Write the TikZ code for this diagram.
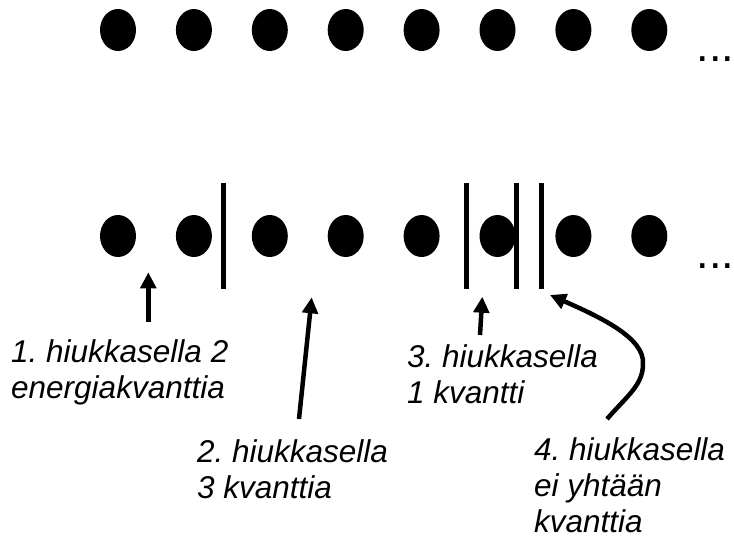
\documentclass[tikz,border=0pt]{standalone}
\usepackage{fontspec}
\setmainfont{Liberation Sans}
\usetikzlibrary{arrows.meta,shapes.geometric}
\frenchspacing
\begin{document}
\begin{tikzpicture}[x=1pt,y=-1pt,
  particle/.style={ellipse,fill=black,draw=none,minimum width=36pt,minimum height=42pt,inner sep=0pt},
  wall/.style={line width=5pt},
  arr/.style={line width=4.5pt,-{Triangle[width=15.5pt,length=16pt]}},
  lbl/.style={font=\fontsize{31.5}{36}\selectfont\itshape\frenchspacing,align=left,inner sep=0pt,anchor=north west},
  more/.style={font=\fontsize{45}{50}\selectfont,inner sep=0pt,anchor=base west}]
\useasboundingbox (0,0) rectangle (734,539);
% top row
\foreach \i in {1,...,8}{
  \node[particle] (t\i) at ({118+75.9*(\i-1)},30) {};
}
\node[more] (tdots) at (696.6,61.7) {...};
% bottom row
\foreach \i in {1,...,8}{
  \node[particle] (b\i) at ({118+75.9*(\i-1)},236) {};
}
\node[more] (bdots) at (696.6,268.3) {...};
% walls
\draw[wall] (223.3,183.3) -- (223.3,289);
\draw[wall] (466,183.3) -- (466,289);
\draw[wall] (516,183.3) -- (516,289);
\draw[wall] (541,183.3) -- (541,289);
% labels
\node[lbl] (l1) at (11,339.3) {1. hiukkasella 2\\energiakvanttia};
\node[lbl] (l2) at (197,439.3) {2. hiukkasella\\3 kvanttia};
\node[lbl] (l3) at (407,344.3) {3. hiukkasella\\1 kvantti};
\node[lbl] (l4) at (534,437.3) {4. hiukkasella\\ei yhtään\\kvanttia};
% arrow ends
\coordinate (a1s) at (148.3,321.7);
\coordinate (a1e) at (148.3,272.3);
\coordinate (a2s) at (299,419);
\coordinate (a2e) at (311.7,297.3);
\coordinate (a3s) at (480,335);
\coordinate (a3e) at (482.3,296.7);
\coordinate (a4s) at (607,419);
\coordinate (a4m) at (643,364);
\coordinate (a4e) at (550,295);
\draw[arr] (a1s) -- (a1e);
\draw[arr] (a2s) -- (a2e);
\draw[arr] (a3s) -- (a3e);
\draw[arr] (a4s) .. controls (627,396) and (643,385) .. (a4m)
  .. controls (645,338) and (600,317) .. (a4e);
\end{tikzpicture}
\end{document}
